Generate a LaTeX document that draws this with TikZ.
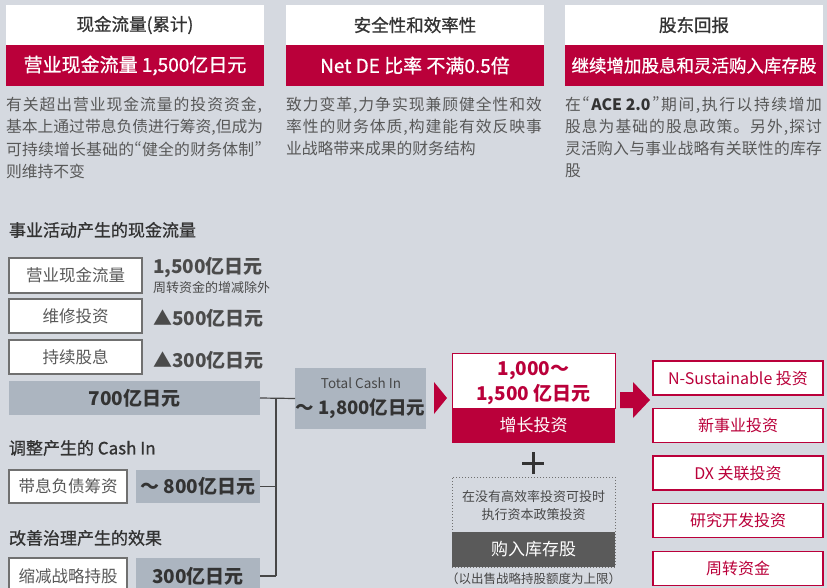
\documentclass[tikz,border=0pt]{standalone}
\usepackage{fontspec}
\setmainfont{Noto Sans CJK SC}
\newfontfamily\medfont{Noto Sans CJK SC}[FakeBold=0.9]
\definecolor{bg}{HTML}{D5D9E0}
\definecolor{crim}{HTML}{BA003A}
\definecolor{gbox}{HTML}{ACB5C0}
\definecolor{dbox}{HTML}{5A5A5A}
\definecolor{txt}{HTML}{585858}
\definecolor{dark}{HTML}{333333}
\definecolor{boxline}{HTML}{707070}
\newcommand{\myfs}[1]{\fontsize{#1}{#1}\selectfont}
\def\spreadend{\spreadend}
\def\spreadit#1{\spreadB#1\spreadend}
\def\spreadB#1{#1\spreadA}
\def\spreadA#1{\ifx\spreadend#1\else\hskip 0pt plus 1fil\relax#1\expandafter\spreadA\fi}
\newcommand{\fullline}[2]{\hbox to #1pt{\spreadit{#2}}}
\tikzset{
  base/.style={inner sep=0pt, outer sep=0pt},
  hdr/.style={base, fill=white, minimum width=258, minimum height=40, text=dark, font=\medfont\myfs{17.5}},
  redbar/.style={base, fill=crim, minimum width=258, minimum height=41, text=white, font=\medfont\myfs{19}},
  bodyline/.style={base, anchor=west, text=txt, font=\myfs{15.8}\addfontfeature{RawFeature=+pwid}},
  heading/.style={base, anchor=west, text=dark, font=\medfont\myfs{17}},
  whitebox/.style={base, draw=boxline, line width=1.3pt, fill=white, text=txt, font=\myfs{16.5}},
  graybox/.style={base, fill=gbox, text=dark, font=\myfs{19}\bfseries},
  valtext/.style={base, anchor=west, text=txt!85!black, font=\myfs{19}\bfseries},
  redbox/.style={base, draw=crim, line width=1.4pt, fill=white, text=crim, font=\myfs{16}, minimum width=170, minimum height=34},
  conn/.style={draw=dark!90, line width=1.2pt},
  smalltxt/.style={base, text=dark!90, font=\myfs{13}},
}
\begin{document}
\begin{tikzpicture}[x=1pt,y=-1pt]
\useasboundingbox (0,0) rectangle (827,588);
\fill[bg] (0,0) rectangle (827,588);

% ---- top panels
\node[hdr, font=\medfont\myfs{17.5}\addfontfeature{RawFeature=+pwid}] (h1) at (135,25) {现金流量（累计）};
\node[redbar] (rb1) at (135,65.5) {营业现金流量 1,500亿日元};
\node[hdr] (h2) at (415,25) {安全性和效率性};
\node[redbar] (rb2) at (415,65.5) {Net DE 比率 不满0.5倍};
\node[hdr] (h3) at (694,25) {股东回报};
\node[redbar, font=\medfont\myfs{17.5}] (rb3) at (694,65.5) {继续增加股息和灵活购入库存股};

\node[bodyline] (t11) at (6,105) {\fullline{256}{有关超出营业现金流量的投资资金，}};
\node[bodyline] (t12) at (6,127) {\fullline{256}{基本上通过带息负债进行筹资，但成为}};
\node[bodyline] (t13) at (6,149) {\fullline{256}{可持续增长基础的“健全的财务体制”}};
\node[bodyline] (t14) at (6,171) {则维持不变};

\node[bodyline] (t21) at (286,105) {\fullline{256}{致力变革，力争实现兼顾健全性和效}};
\node[bodyline] (t22) at (286,127) {\fullline{256}{率性的财务体质，构建能有效反映事}};
\node[bodyline] (t23) at (286,149) {业战略带来成果的财务结构};

\node[bodyline] (t31) at (565,105) {\fullline{257}{在“{{\bfseries\color{dark}ACE 2.0}}”期间，执行以持续增加}};
\node[bodyline] (t32) at (565,127) {\fullline{257}{股息为基础的股息政策。另外，探讨}};
\node[bodyline] (t33) at (565,149) {\fullline{257}{灵活购入与事业战略有关联性的库存}};
\node[bodyline] (t34) at (565,171) {股};

% ---- left column
\node[heading] (s1) at (9,230) {事业活动产生的现金流量};
\node[whitebox, minimum width=133, minimum height=35] (b1) at (75.5,275.5) {营业现金流量};
\node[whitebox, minimum width=133, minimum height=34] (b2) at (75.5,316) {维修投资};
\node[whitebox, minimum width=133, minimum height=34] (b3) at (75.5,357) {持续股息};
\node[valtext] (v1) at (153,268) {1,500亿日元};
\node[base, anchor=west, text=txt!85!black, font=\myfs{13}] (v1s) at (153,288) {周转资金的增减除外};
\node[valtext] (v2) at (153,318) {▲500亿日元};
\node[valtext] (v3) at (153,360) {▲300亿日元};
\node[graybox, minimum width=251, minimum height=34] (sum700) at (134.5,398) {700亿日元};

\node[heading] (s2) at (9,448) {调整产生的 Cash In};
\node[whitebox, minimum width=118, minimum height=33] (b4) at (68,486.5) {带息负债筹资};
\node[graybox, minimum width=124, minimum height=33] (g800) at (198,486.5) {～ 800亿日元};

\node[heading] (s3) at (9,538) {改善治理产生的效果};
\node[whitebox, minimum width=118, minimum height=36] (b5) at (68,576) {缩减战略持股};
\node[graybox, minimum width=124, minimum height=36] (g300) at (198,576) {300亿日元};

% ---- total cash in
\node[base, fill=gbox, minimum width=131, minimum height=61] (tc) at (360.5,398.5) {};
\node[base, text=dark!90, font=\myfs{13.5}] (tcl1) at (361,383) {Total Cash In};
\node[base, text=dark, font=\myfs{18.5}\bfseries] (tcl2) at (360.5,409) {～ 1,800亿日元};

% connectors
\coordinate (bustop) at (276,398);
\coordinate (busmid) at (276,486.5);
\coordinate (busbot) at (276,576);
\draw[conn] (sum700.east) -- (tc.west);
\draw[conn] (bustop) -- (busbot);
\draw[conn] (g800.east) -- (busmid);
\draw[conn] (g300.east) -- (busbot);

% red triangle
\fill[crim] (434,382) -- (447,398) -- (434,414) -- cycle;

% ---- growth investment
\node[base, draw=crim, line width=1pt, fill=white, minimum width=163, minimum height=55] (gtop) at (533.5,380.5) {};
\node[base, fill=crim, minimum width=163, minimum height=35, text=white, font=\myfs{17}] (gbot) at (533.5,425.5) {增长投资};
\node[base, text=crim, font=\myfs{19}\bfseries] (gl1) at (533.5,371) {1,000～};
\node[base, text=crim, font=\myfs{19}\bfseries] (gl2) at (533.5,395) {1,500 亿日元};

% plus
\coordinate (plusc) at (533,463);
\draw[line width=3pt, dark] ([xshift=-11pt]plusc) -- ([xshift=11pt]plusc);
\draw[line width=3pt, dark] ([yshift=-11pt]plusc) -- ([yshift=11pt]plusc);

% buyback
\node[base, draw=boxline, dotted, line width=1pt, minimum width=163, minimum height=90] (dotbox) at (533.5,522) {};
\node[base, fill=dbox, minimum width=163, minimum height=35, text=white, font=\myfs{17}] (buy) at (533.5,549.5) {购入库存股};
\node[smalltxt] (dl1) at (533.5,497) {在没有高效率投资可投时};
\node[smalltxt] (dl2) at (533.5,515) {执行资本政策投资};
\node[base, text=dark!90, font=\myfs{12.5}] (note) at (533.5,579) {（以出售战略持股额度为上限）};

% big arrow
\fill[crim] (620,392) -- (633,392) -- (633,382) -- (650,400) -- (633,418) -- (633,408) -- (620,408) -- cycle;

% right boxes
\node[redbox] (r1) at (738,378) {N-Sustainable 投资};
\node[redbox] (r2) at (738,425.5) {新事业投资};
\node[redbox] (r3) at (738,473) {DX 关联投资};
\node[redbox] (r4) at (738,520.5) {研究开发投资};
\node[redbox] (r5) at (738,568.5) {周转资金};
\end{tikzpicture}
\end{document}
